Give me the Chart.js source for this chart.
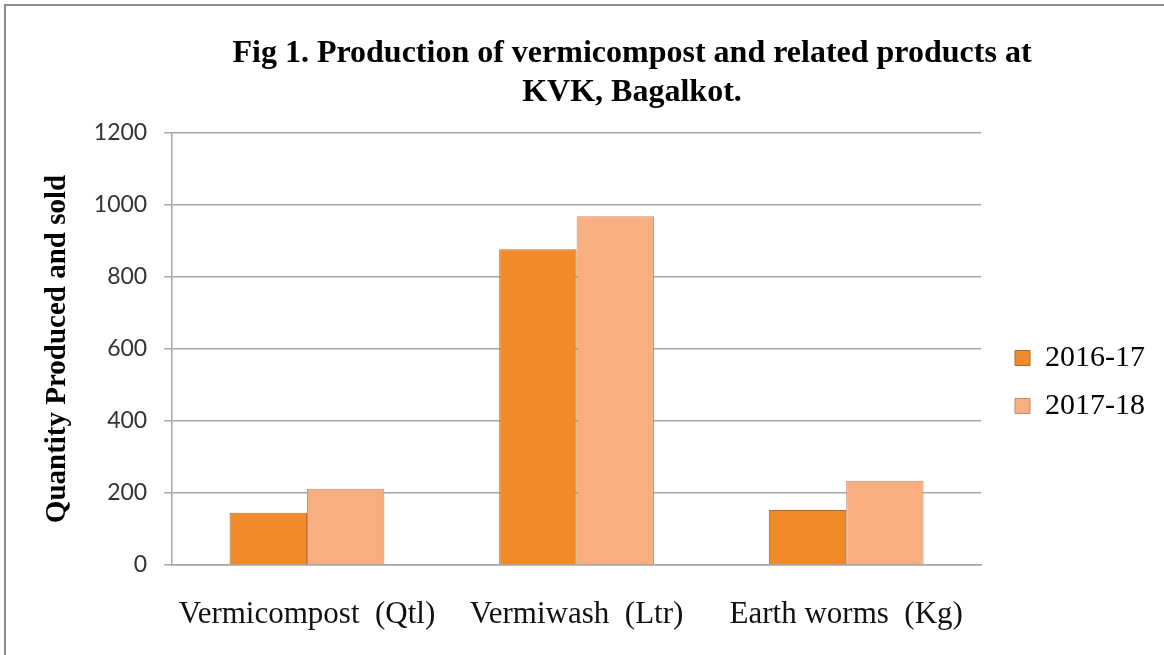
<!DOCTYPE html>
<html>
<head>
<meta charset="utf-8">
<script src="https://cdn.jsdelivr.net/npm/chart.js@4/dist/chart.umd.min.js"></script>
<style>
  html, body { margin: 0; padding: 0; background: #fff; }
  #wrap { width: 1164px; height: 655px; }
</style>
</head>
<body>
<div id="wrap"><canvas id="chart" width="1164" height="655"></canvas></div>
<script>
// data
const categories = ["Vermicompost  (Qtl)", "Vermiwash  (Ltr)", "Earth worms  (Kg)"];
const seriesNames = ["2016-17", "2017-18"];
const values2016 = [145, 877, 153];
const values2017 = [212, 969, 234];
const yTicks = [0, 200, 400, 600, 800, 1000, 1200];
const titleLines = ["Fig 1. Production of vermicompost and related products at", "KVK, Bagalkot."];

const serif = "'Liberation Serif', 'Times New Roman', serif";

// draws the two-line title and the grey frame at the top/left edge
const decorations = {
  id: "decorations",
  afterDraw(chart) {
    const ctx = chart.ctx;
    ctx.save();
    ctx.strokeStyle = "#8c8c8c";
    ctx.lineWidth = 2;
    ctx.beginPath();
    ctx.moveTo(5, chart.height + 5);
    ctx.lineTo(5, 5);
    ctx.lineTo(chart.width + 5, 5);
    ctx.stroke();
    ctx.fillStyle = "#000";
    ctx.font = "bold 32px " + serif;
    ctx.textAlign = "center";
    ctx.textBaseline = "middle";
    ctx.fillText(titleLines[0], 632, 54);
    ctx.fillText(titleLines[1], 632, 93);
    ctx.restore();
  }
};

new Chart(document.getElementById("chart"), {
  type: "bar",
  data: {
    labels: categories,
    datasets: [
      { label: seriesNames[0], data: values2016, backgroundColor: "#F08A2A", borderColor: "#B9651F", borderWidth: 1 },
      { label: seriesNames[1], data: values2017, backgroundColor: "#F9AE80", borderColor: "#C98868", borderWidth: 1 }
    ]
  },
  options: {
    responsive: false,
    animation: false,
    layout: { padding: { top: 133, left: 32, right: 9, bottom: 24 } },
    datasets: { bar: { barPercentage: 1, categoryPercentage: 0.574 } },
    plugins: {
      title: { display: false },
      tooltip: { enabled: false },
      legend: {
        position: "right",
        labels: { boxWidth: 15, boxHeight: 15, padding: 18, color: "#000", font: { family: serif, size: 30 } }
      }
    },
    scales: {
      x: {
        grid: { display: false },
        border: { display: true, color: "#a6a6a6", width: 1.5 },
        ticks: { color: "#111", padding: 23, font: { family: serif, size: 31 } },
        afterFit(scale) { scale.height = 66; }
      },
      y: {
        min: 0, max: 1200,
        afterBuildTicks(scale) { scale.ticks = yTicks.map(v => ({ value: v })); },
        grid: { color: "#a6a6a6", lineWidth: 1.5, tickLength: 8 },
        border: { display: true, color: "#a6a6a6", width: 1.5 },
        ticks: { color: "#333", padding: 17, font: { family: "Lato", size: 23 }, callback: v => String(v) },
        title: {
          display: true, text: "Quantity Produced and sold", color: "#000",
          padding: { top: 8, bottom: 2 },
          font: { family: serif, size: 29, weight: "bold" }
        }
      },
      // empty right axis, only keeps the gap between plot and legend
      gap: {
        position: "right", display: true,
        grid: { display: false }, border: { display: false },
        ticks: { display: false },
        afterFit(scale) { scale.width = 16; }
      }
    }
  },
  plugins: [decorations]
});
</script>
</body>
</html>
